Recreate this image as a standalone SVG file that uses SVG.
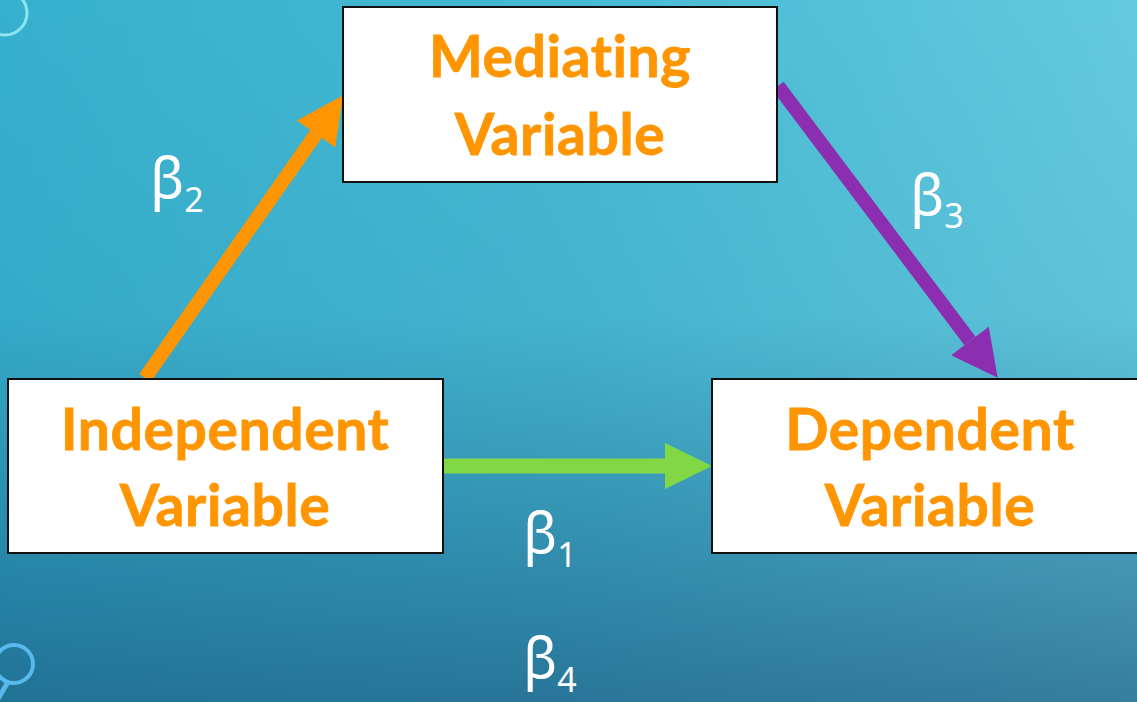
<svg xmlns="http://www.w3.org/2000/svg" width="1137" height="702" viewBox="0 0 1137 702">
  <defs>
    <linearGradient id="bgH" x1="0" y1="0" x2="1" y2="0">
      <stop offset="0" stop-color="#36b0cd"/>
      <stop offset="0.5" stop-color="#46b9d3"/>
      <stop offset="1" stop-color="#63cadf"/>
    </linearGradient>
    <linearGradient id="bgV" x1="0" y1="0" x2="0" y2="1">
      <stop offset="0" stop-color="#0f3f6a" stop-opacity="0"/>
      <stop offset="0.45" stop-color="#0f3f6a" stop-opacity="0.05"/>
      <stop offset="1" stop-color="#0f3f6a" stop-opacity="0.55"/>
    </linearGradient>
    <marker id="hOrange" markerUnits="userSpaceOnUse" markerWidth="48" markerHeight="48" refX="0" refY="23.5" orient="auto" overflow="visible">
      <path d="M0,0 L47,23.5 L0,47 Z" fill="#ff9500"/>
    </marker>
    <marker id="hPurple" markerUnits="userSpaceOnUse" markerWidth="48" markerHeight="48" refX="0" refY="23.5" orient="auto" overflow="visible">
      <path d="M0,0 L46,23.5 L0,47 Z" fill="#8b2fb0"/>
    </marker>
    <marker id="hGreen" markerUnits="userSpaceOnUse" markerWidth="48" markerHeight="48" refX="0" refY="23" orient="auto" overflow="visible">
      <path d="M0,0 L47,23 L0,46 Z" fill="#82d844"/>
    </marker>
  </defs>
  <style>
    .box { fill: #ffffff; stroke: #111111; stroke-width: 2; }
    .lbl { font-family: Lato, "Liberation Sans", sans-serif; font-weight: 700; font-size: 57px; fill: #ff9500; text-anchor: middle; font-variant-ligatures: none; letter-spacing: 0.6px; stroke: #ff9500; stroke-width: 0.8px; }
    .beta { font-family: "Noto Sans", "DejaVu Sans", sans-serif; font-size: 56px; fill: #ffffff; }
    .sub { font-size: 34px; }
    .deco { fill: none; }
  </style>

  <rect x="0" y="0" width="1137" height="702" fill="url(#bgH)"/>
  <rect x="0" y="0" width="1137" height="702" fill="url(#bgV)"/>

  <g id="decor">
    <circle class="deco" cx="5" cy="13" r="22" stroke="#8ee4f3" stroke-width="3"/>
    <circle class="deco" cx="14" cy="664" r="19" stroke="#58b9ea" stroke-width="4"/>
    <line x1="8" y1="682" x2="-4" y2="702" stroke="#58b9ea" stroke-width="5"/>
  </g>

  <g id="connectors">
    <line x1="145" y1="378" x2="316" y2="134" stroke="#ff9500" stroke-width="14" marker-end="url(#hOrange)"/>
    <line x1="778" y1="86" x2="970" y2="341" stroke="#8b2fb0" stroke-width="14" marker-end="url(#hPurple)"/>
    <line x1="443" y1="466" x2="665" y2="466" stroke="#82d844" stroke-width="15" marker-end="url(#hGreen)"/>
  </g>

  <g id="mediating">
    <rect class="box" x="343" y="7" width="434" height="175"/>
    <text class="lbl" x="560" y="77">Mediating</text>
    <text class="lbl" x="560" y="155">Variable</text>
  </g>

  <g id="independent">
    <rect class="box" x="8" y="379" width="435" height="174"/>
    <text class="lbl" x="225" y="450">Independent</text>
    <text class="lbl" x="225" y="526">Variable</text>
  </g>

  <g id="dependent">
    <rect class="box" x="712" y="379" width="440" height="174"/>
    <text class="lbl" x="930" y="450">Dependent</text>
    <text class="lbl" x="930" y="526">Variable</text>
  </g>

  <g id="labels">
    <text class="beta" x="150" y="198">β<tspan class="sub" dy="14">2</tspan></text>
    <text class="beta" x="910" y="215">β<tspan class="sub" dy="13">3</tspan></text>
    <text class="beta" x="523" y="553">β<tspan class="sub" dy="14">1</tspan></text>
    <text class="beta" x="523" y="678">β<tspan class="sub" dy="14">4</tspan></text>
  </g>
</svg>
